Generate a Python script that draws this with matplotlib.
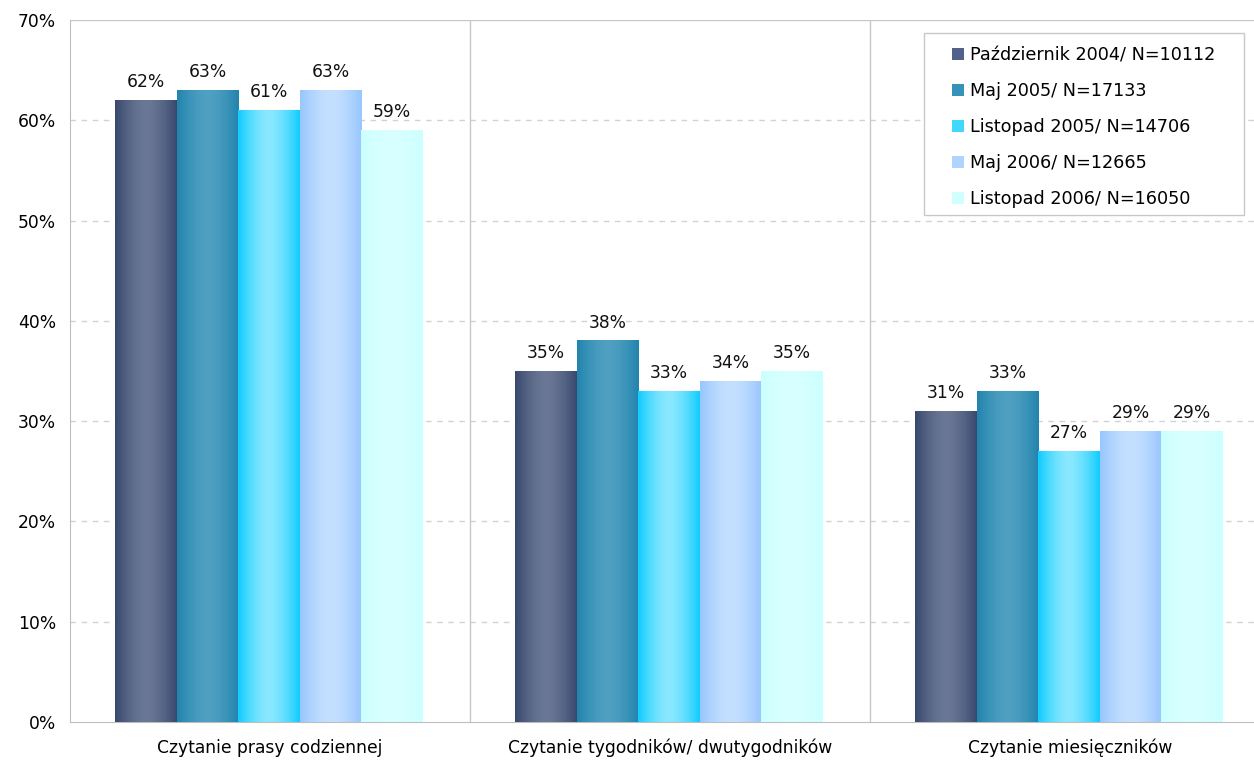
import numpy as np
import matplotlib.pyplot as plt
from matplotlib.patches import Patch, Rectangle
from matplotlib.colors import to_rgb

plt.rcParams['font.family'] = ['DejaVu Sans']

# dane
kategorie = ['Czytanie prasy codziennej', 'Czytanie tygodników/ dwutygodników', 'Czytanie miesięczników']
serie = ['Październik 2004/ N=10112', 'Maj 2005/ N=17133', 'Listopad 2005/ N=14706',
         'Maj 2006/ N=12665', 'Listopad 2006/ N=16050']
paz_2004 = [62, 35, 31]
maj_2005 = [63, 38, 33]
lis_2005 = [61, 33, 27]
maj_2006 = [63, 34, 29]
lis_2006 = [59, 35, 29]
wartosci = [paz_2004, maj_2005, lis_2005, maj_2006, lis_2006]

# kolory: krawedz / srodek slupka
krawedz = ['#38486e', '#2284ad', '#10ccff', '#98c6fe', '#ccffff']
srodek = ['#6b7895', '#4fa0c2', '#8ae8ff', '#c4e0ff', '#d8ffff']
legenda_kol = ['#52618a', '#3592b8', '#40d8ff', '#b0d4ff', '#d0ffff']

fs = 12.3

fig = plt.figure(figsize=(12.54, 7.61), dpi=100)
ax = fig.add_axes([70 / 1254, 39 / 761, 1184 / 1254, 702 / 761])

szer = 0.154
start = 0.1125
t = np.linspace(0, 1, 80)
profil = 1 - np.abs(2 * t - 1) ** 1.6

for i, vals in enumerate(wartosci):
    c0 = np.array(to_rgb(krawedz[i]))
    c1 = np.array(to_rgb(srodek[i]))
    grad = c0[None, :] + (c1 - c0)[None, :] * profil[:, None]
    grad = grad[None, :, :]
    for k, v in enumerate(vals):
        x0 = k + start + i * szer
        ax.imshow(grad, extent=[x0, x0 + szer, 0, v], aspect='auto', zorder=3,
                  interpolation='bilinear')
        ax.text(x0 + szer / 2, v + 0.9, f'{v}%', ha='center', va='bottom',
                fontsize=fs, color='#111111', zorder=4)

ax.set_xlim(0, 1184 / 400)
ax.set_ylim(0, 70)
ax.set_yticks(range(0, 71, 10))
ax.set_yticklabels([f'{v}%' for v in range(0, 71, 10)], fontsize=fs)
ax.set_xticks([0.5, 1.5, 2.5])
ax.set_xticklabels(kategorie, fontsize=fs)
ax.tick_params(length=0, pad=10, axis='y')
ax.tick_params(length=0, pad=12, axis='x')

for y in range(10, 70, 10):
    ax.axhline(y, color='#d2d2d2', lw=1, ls=(0, (4, 4)), zorder=1)
ax.axhline(70, color='#c8c8c8', lw=1, zorder=1)
for x in [1, 2]:
    ax.axvline(x, color='#c8c8c8', lw=1, zorder=1)

for s in ['top', 'right']:
    ax.spines[s].set_visible(False)
for s in ['left', 'bottom']:
    ax.spines[s].set_color('#bdbdbd')

# ramka legendy
ramka = Rectangle((924 / 1254, (761 - 215) / 761), 320 / 1254, 182 / 761,
                  transform=fig.transFigure, facecolor='white', edgecolor='#c8c8c8',
                  lw=1, zorder=4)
ax.add_artist(ramka)
ramka.set_clip_on(False)

uchwyty = [Patch(facecolor=c, edgecolor='none') for c in legenda_kol]
leg = ax.legend(uchwyty, serie, loc='upper left',
                bbox_to_anchor=((952 - 70) / 1184, (761 - 46 - 39) / 702),
                fontsize=12.7, frameon=False, labelspacing=1.02,
                handlelength=0.7, handleheight=0.7, handletextpad=0.3,
                borderpad=0, borderaxespad=0)
leg.set_zorder(5)

fig.savefig('out.png', dpi=100)
